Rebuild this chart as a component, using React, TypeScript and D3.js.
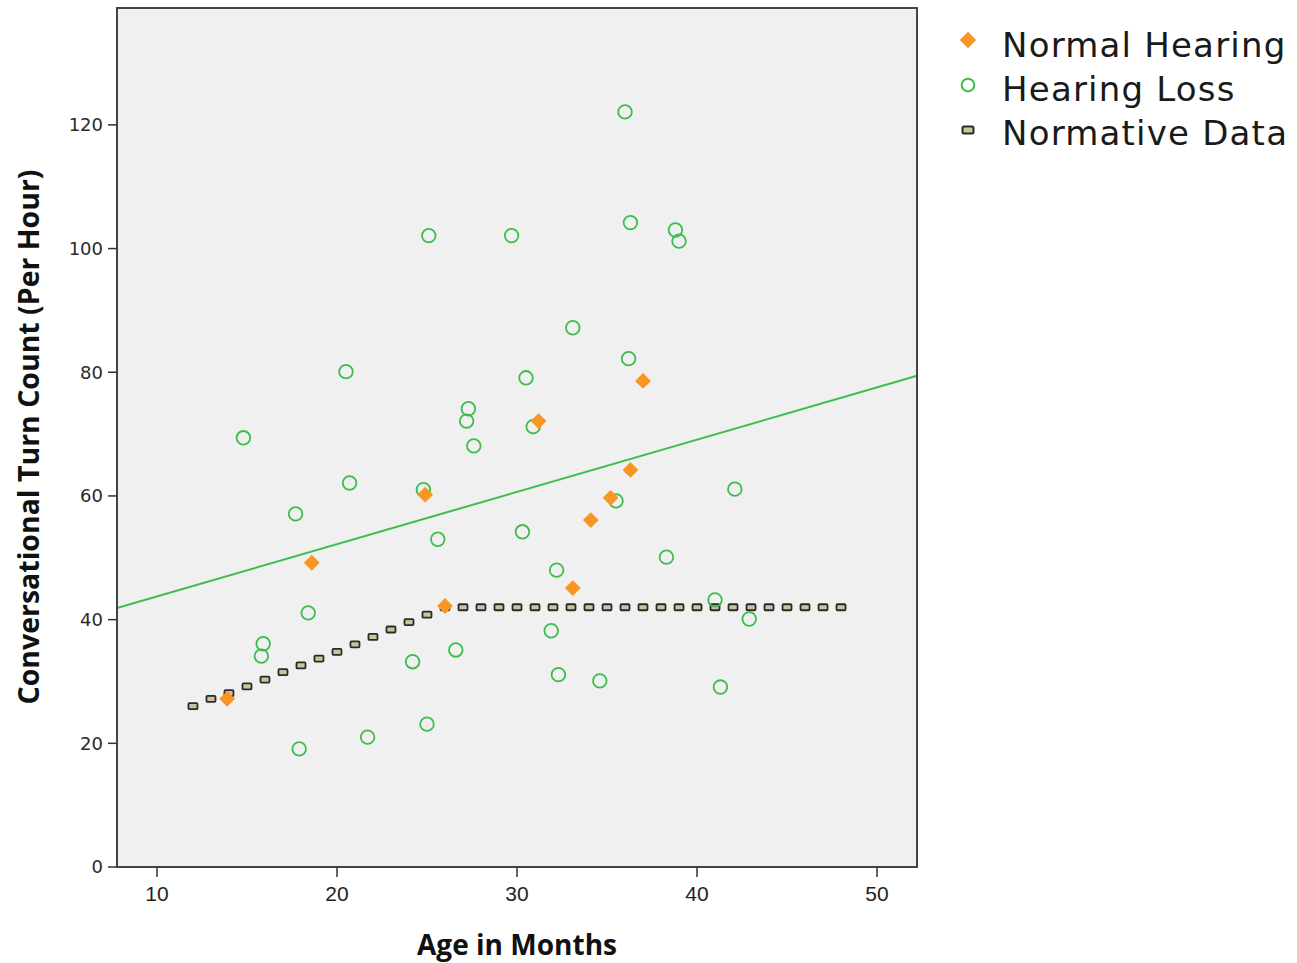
import React from "react";
import * as d3 from "d3";

const yTicks = [0, 20, 40, 60, 80, 100, 120];
const xTicks = [10, 20, 30, 40, 50];

const normalHearing: [number, number][] = [
  [13.9, 27.2], [18.6, 49.2], [24.9, 60.2], [26.0, 42.2], [31.2, 72.1],
  [37.0, 78.6], [36.3, 64.2], [35.2, 59.7], [34.1, 56.1], [33.1, 45.1],
];

const hearingLoss: [number, number][] = [
  [36.0, 122.1], [36.3, 104.2], [38.8, 103.0], [39.0, 101.2], [25.1, 102.1],
  [29.7, 102.1], [33.1, 87.2], [36.2, 82.2], [20.5, 80.1], [30.5, 79.1],
  [27.3, 74.1], [27.2, 72.1], [30.9, 71.2], [27.6, 68.1], [14.8, 69.4],
  [20.7, 62.1], [24.8, 61.0], [42.1, 61.1], [17.7, 57.1], [35.5, 59.2],
  [25.6, 53.0], [30.3, 54.2], [38.3, 50.1], [32.2, 48.0], [18.4, 41.1],
  [41.0, 43.2], [42.9, 40.1], [15.9, 36.1], [15.8, 34.1], [26.6, 35.1],
  [24.2, 33.2], [31.9, 38.2], [32.3, 31.1], [34.6, 30.1], [41.3, 29.1],
  [17.9, 19.1], [21.7, 21.0], [25.0, 23.1],
];

const normativeAges = [12, 13, 14, 15, 16, 17, 18, 19, 20, 21, 22, 23, 24, 25, 26, 27, 28, 29, 30, 31, 32, 33, 34, 35, 36, 37, 38, 39, 40, 41, 42, 43, 44, 45, 46, 47, 48];
const normativeValues = [26.0, 27.2, 28.1, 29.2, 30.3, 31.5, 32.6, 33.7, 34.8, 36.0, 37.2, 38.4, 39.6, 40.8, 42, 42, 42, 42, 42, 42, 42, 42, 42, 42, 42, 42, 42, 42, 42, 42, 42, 42, 42, 42, 42, 42, 42];

// Hearing Loss fit line (intercept, slope per month)
const fitIntercept = 35.3;
const fitSlope = 0.845;

const legendLabels = ["Normal Hearing", "Hearing Loss", "Normative Data"];

const ORANGE = "#f99524";
const GREEN = "#3dbd4e";

export default function App() {
  const left = 117, right = 917, top = 8, bottom = 867;
  const x = d3.scaleLinear().domain([7.78, 52.22]).range([left, right]);
  const y = d3.scaleLinear().domain([0, 138.9]).range([bottom, top]);
  const [x0, x1] = x.domain();
  const diamond = d3.symbol().type(d3.symbolSquare).size(125)() || "";
  const legendDiamond = d3.symbol().type(d3.symbolSquare).size(135)() || "";
  const lineGen = d3.line<number>().x((d) => x(d)).y((d) => y(fitIntercept + fitSlope * d));

  return (
    <svg width={1297} height={963} style={{ position: "absolute", left: 0, top: 0, background: "#fff" }}>
      <rect x={left} y={top} width={right - left} height={bottom - top} fill="#f0f0f0" />
      <g>
        {normativeAges.map((a, i) => (
          <rect key={"n" + i} x={x(a) - 4.5} y={y(normativeValues[i]) - 3} width={9} height={6}
            fill="#c9c49c" stroke="#2a2a2a" strokeWidth={1.8} rx={1} />
        ))}
      </g>
      <path d={lineGen([x0, x1]) || ""} stroke={GREEN} strokeWidth={2} fill="none" />
      {hearingLoss.map(([a, v], i) => (
        <circle key={"h" + i} cx={x(a)} cy={y(v)} r={6.8} fill="none" stroke={GREEN} strokeWidth={1.8} />
      ))}
      {normalHearing.map(([a, v], i) => (
        <path key={"d" + i} d={diamond} transform={`translate(${x(a)},${y(v)}) rotate(45)`} fill={ORANGE} />
      ))}
      <rect x={left} y={top} width={right - left} height={bottom - top} fill="none" stroke="#444" strokeWidth={2} />
      {yTicks.map((t) => (
        <g key={"yt" + t}>
          <line x1={left - 9} x2={left} y1={y(t)} y2={y(t)} stroke="#333" strokeWidth={1.5} />
          <text x={left - 14} y={y(t)} dy="0.36em" textAnchor="end" fontFamily="DejaVu Sans, Verdana, sans-serif" fontSize={18} fill="#2a2a2a">{t}</text>
        </g>
      ))}
      {xTicks.map((t) => (
        <g key={"xt" + t}>
          <line x1={x(t)} x2={x(t)} y1={bottom} y2={bottom + 10} stroke="#333" strokeWidth={1.5} />
          <text x={x(t)} y={bottom + 34} textAnchor="middle" fontFamily="Liberation Sans, Arial, sans-serif" fontSize={21} fill="#222">{t}</text>
        </g>
      ))}
      <text x={517} y={955} textAnchor="middle" fontFamily="Open Sans, sans-serif" fontWeight="bold" fontSize={29} fill="#111"
        textLength={200} lengthAdjust="spacingAndGlyphs">Age in Months</text>
      <text transform="translate(39,437) rotate(-90)" textAnchor="middle" fontFamily="Open Sans, sans-serif" fontWeight="bold" fontSize={29} fill="#111"
        textLength={535} lengthAdjust="spacingAndGlyphs">Conversational Turn Count (Per Hour)</text>
      <g>
        <path d={legendDiamond} transform="translate(968,40) rotate(45)" fill={ORANGE} />
        <circle cx={968} cy={85} r={6.3} fill="none" stroke={GREEN} strokeWidth={2} />
        <rect x={962.5} y={126.5} width={11} height={7} fill="#c9c49c" stroke="#2a2a2a" strokeWidth={2} rx={1.5} />
        {legendLabels.map((l, i) => (
          <text key={l} x={1002} y={45 + i * 44} dy="0.36em" fontFamily="DejaVu Sans, Verdana, sans-serif" fontSize={34} fill="#1a1a1a" letterSpacing={1.2}>{l}</text>
        ))}
      </g>
    </svg>
  );
}
